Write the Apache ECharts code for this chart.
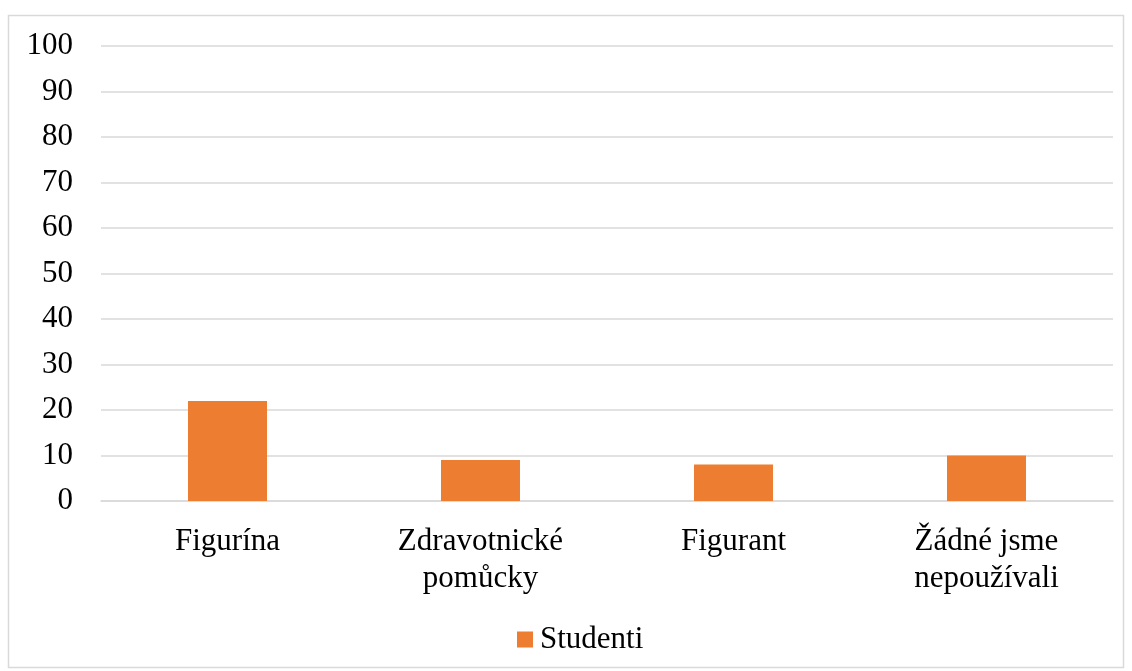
<!DOCTYPE html>
<html>
<head>
<meta charset="utf-8">
<script src="https://cdn.jsdelivr.net/npm/echarts@6/dist/echarts.min.js"></script>
<style>
  html, body { margin: 0; padding: 0; background: #fff; }
  #chart { width: 1132px; height: 671px; }
</style>
</head>
<body>
<div id="chart"></div>
<script>
var categories = ['Figurína', 'Zdravotnické\npomůcky', 'Figurant', 'Žádné jsme\nnepoužívali'];
var studenti = [22, 9, 8, 10];

var font = '"Liberation Serif", "Times New Roman", serif';
var myChart = echarts.init(document.getElementById('chart'));

var option = {
  animation: false,
  textStyle: { fontFamily: font },
  graphic: [{
    type: 'rect',
    shape: { x: 8.5, y: 15.5, width: 1115, height: 652 },
    style: { fill: 'none', stroke: '#d9d9d9', lineWidth: 1.5 },
    silent: true
  }],
  grid: { left: 101, right: 19, top: 46, bottom: 170 },
  legend: {
    top: 619,
    left: 512,
    itemWidth: 16,
    itemHeight: 16,
    itemGap: 8,
    icon: 'rect',
    textStyle: { fontFamily: font, fontSize: 31, color: '#000', padding: [0, 0, 0, 2] },
    data: ['Studenti']
  },
  xAxis: {
    type: 'category',
    data: categories,
    axisLine: { lineStyle: { color: '#d9d9d9', width: 1.5 } },
    axisTick: { show: false },
    axisLabel: { fontFamily: font, fontSize: 31, color: '#000', margin: 22, lineHeight: 37, interval: 0 }
  },
  yAxis: {
    type: 'value',
    min: 0,
    max: 100,
    interval: 10,
    axisLine: { show: false },
    axisTick: { show: false },
    splitLine: { lineStyle: { color: '#d9d9d9', width: 1.5 } },
    axisLabel: { fontFamily: font, fontSize: 31, color: '#000', margin: 28 }
  },
  series: [{
    name: 'Studenti',
    type: 'bar',
    data: studenti,
    barWidth: 79,
    itemStyle: { color: '#ed7d31' }
  }]
};

myChart.setOption(option);
</script>
</body>
</html>
